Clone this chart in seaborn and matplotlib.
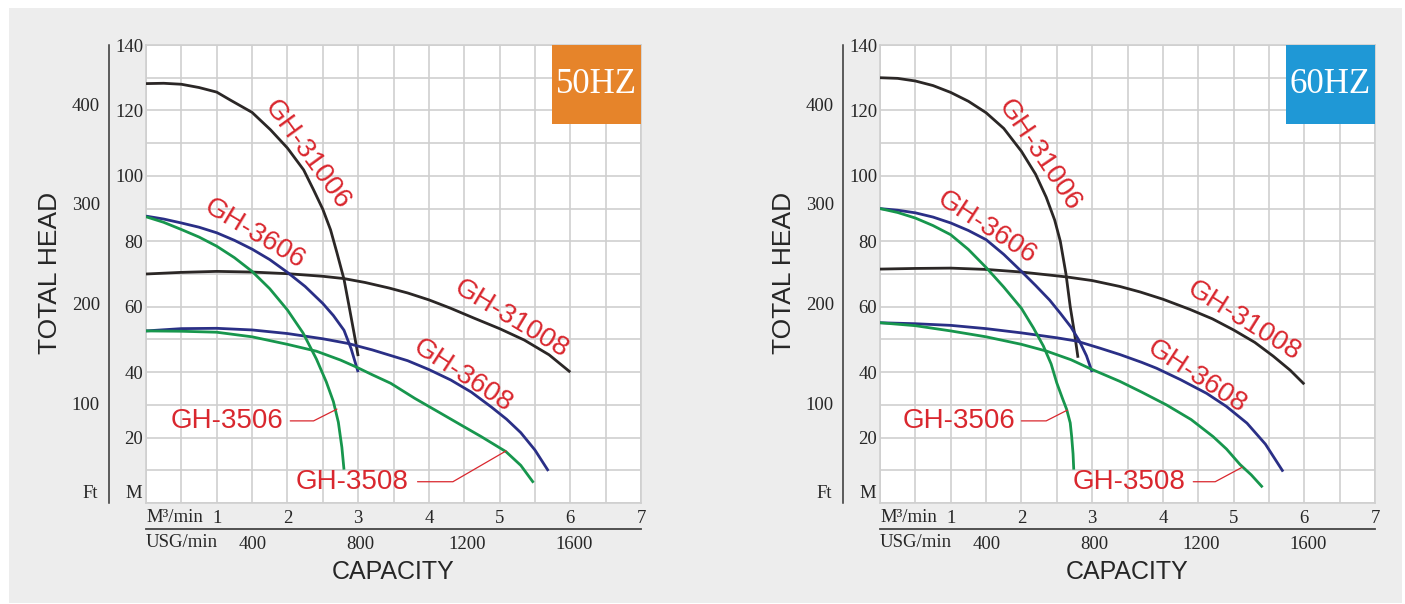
import matplotlib
matplotlib.use("Agg")
import matplotlib.pyplot as plt
from matplotlib.patches import Rectangle
import matplotlib.transforms as mtransforms
import seaborn as sns

# ---- curves: capacity (m3/min) vs total head (m) ----
# 50 Hz
q50_31006 = [0, 0.25, 0.5, 0.75, 1.0, 1.19, 1.5, 1.76, 2.0, 2.23, 2.37, 2.5, 2.61, 2.7, 2.8, 2.88, 2.95, 3.0]
h50_31006 = [128.2, 128.3, 128.0, 127.0, 125.6, 123.2, 119.4, 114.1, 108.5, 101.8, 95.7, 89.8, 83.5, 76.5, 68.4, 59.2, 51.0, 44.9]
q50_31008 = [0, 0.5, 1.0, 1.5, 2.0, 2.5, 2.8, 3.1, 3.44, 3.7, 4.0, 4.3, 4.64, 5.0, 5.35, 5.7, 6.0]
h50_31008 = [70.0, 70.5, 70.8, 70.6, 70.1, 69.3, 68.6, 67.4, 65.7, 64.2, 62.1, 59.6, 56.5, 53.3, 49.8, 45.3, 40.0]
q50_3606 = [0, 0.25, 0.5, 0.75, 1.0, 1.25, 1.5, 1.75, 2.0, 2.25, 2.5, 2.65, 2.8, 2.9, 3.0]
h50_3606 = [87.7, 86.8, 85.6, 84.3, 82.6, 80.3, 77.6, 74.4, 70.5, 66.2, 61.0, 57.3, 52.8, 47.2, 40.0]
q50_3608 = [0, 0.5, 1.0, 1.5, 2.0, 2.5, 2.85, 3.2, 3.7, 4.0, 4.31, 4.6, 4.88, 5.1, 5.3, 5.5, 5.69]
h50_3608 = [52.6, 53.3, 53.4, 52.9, 51.8, 50.2, 48.8, 46.8, 43.5, 40.8, 37.6, 33.9, 29.4, 25.6, 21.5, 16.2, 9.8]
q50_3506 = [0, 0.25, 0.5, 0.75, 1.0, 1.25, 1.5, 1.75, 2.0, 2.22, 2.41, 2.55, 2.65, 2.72, 2.77, 2.8]
h50_3506 = [87.5, 85.8, 83.6, 81.3, 78.5, 75.0, 70.8, 65.5, 59.0, 52.0, 44.0, 37.0, 31.0, 24.7, 17.0, 10.2]
q50_3508 = [0, 0.5, 1.0, 1.5, 2.0, 2.41, 2.75, 2.97, 3.2, 3.46, 3.8, 4.17, 4.45, 4.74, 5.09, 5.3, 5.48]
h50_3508 = [52.6, 52.5, 52.2, 50.8, 48.5, 46.4, 43.7, 41.6, 39.2, 36.6, 32.0, 27.4, 23.9, 20.3, 15.7, 11.5, 6.2]

# 60 Hz
q60_31006 = [0, 0.25, 0.5, 0.75, 1.0, 1.25, 1.5, 1.75, 2.0, 2.2, 2.35, 2.47, 2.55, 2.63, 2.69, 2.75, 2.8]
h60_31006 = [130.0, 129.8, 129.0, 127.6, 125.5, 122.8, 119.3, 114.5, 107.5, 100.5, 93.5, 86.5, 80.0, 70.0, 60.0, 52.0, 44.4]
q60_31008 = [0, 0.5, 1.0, 1.5, 2.0, 2.64, 3.0, 3.39, 3.68, 4.0, 4.38, 4.7, 5.0, 5.3, 5.56, 5.8, 6.0]
h60_31008 = [71.5, 71.7, 71.8, 71.4, 70.6, 69.1, 68.0, 66.2, 64.5, 62.3, 59.2, 56.3, 52.9, 49.1, 44.9, 40.6, 36.3]
q60_3606 = [0, 0.25, 0.5, 0.75, 1.0, 1.25, 1.5, 1.75, 2.0, 2.2, 2.4, 2.55, 2.7, 2.82, 2.92, 3.0]
h60_3606 = [90.0, 89.5, 88.7, 87.4, 85.6, 83.3, 80.5, 76.0, 70.8, 66.5, 62.0, 58.0, 53.8, 49.5, 45.0, 40.0]
q60_3608 = [0, 0.5, 1.0, 1.5, 2.0, 2.5, 2.78, 3.1, 3.39, 3.7, 3.91, 4.25, 4.62, 4.9, 5.19, 5.45, 5.7]
h60_3608 = [55.1, 54.8, 54.3, 53.3, 52.0, 50.5, 49.5, 47.4, 45.4, 43.0, 41.2, 37.7, 33.5, 29.5, 24.4, 18.0, 9.6]
q60_3506 = [0, 0.25, 0.5, 0.75, 1.0, 1.25, 1.5, 1.75, 2.0, 2.17, 2.31, 2.42, 2.5, 2.58, 2.64, 2.69, 2.71, 2.73, 2.74]
h60_3506 = [90.0, 88.8, 87.1, 84.8, 82.0, 77.5, 72.0, 66.0, 59.5, 53.5, 48.0, 42.5, 36.7, 32.0, 28.6, 24.5, 20.4, 15.0, 10.2]
q60_3508 = [0, 0.5, 1.0, 1.5, 2.0, 2.36, 2.7, 3.0, 3.39, 3.7, 4.05, 4.4, 4.71, 4.9, 5.09, 5.25, 5.41]
h60_3508 = [55.1, 54.2, 52.6, 50.8, 48.5, 46.4, 43.8, 40.8, 37.2, 33.9, 30.0, 25.5, 20.3, 16.5, 11.8, 8.6, 4.8]

models = ["GH-31006", "GH-31008", "GH-3606", "GH-3608", "GH-3506", "GH-3508"]
model_colors = ["#2b2726", "#2b2726", "#2a2f86", "#2a2f86", "#17964d", "#17964d"]

m_ticks = [20, 40, 60, 80, 100, 120, 140]
ft_ticks = [100, 200, 300, 400]
q_ticks = [1, 2, 3, 4, 5, 6, 7]
usg_ticks = [400, 800, 1200, 1600]

RED = "#d9272e"
GRID = "#cfcfcf"
SERIF = ["Liberation Serif", "DejaVu Serif"]
SANS = ["Liberation Sans", "DejaVu Sans"]

sns.set_style("white")
plt.rcParams["font.family"] = SERIF

fig = plt.figure(figsize=(14.05, 6.04), dpi=100)
fig.patch.set_facecolor("white")
fig.patches.append(Rectangle((9 / 1405, 1 / 604), 1393 / 1405, 595 / 604,
                             transform=fig.transFigure, facecolor="#ededed",
                             edgecolor="none", zorder=-10))


def draw_panel(ax, curves, labels, callouts, badge, badge_color):
    ax.set_facecolor("white")
    ax.set_xlim(0, 7)
    ax.set_ylim(0, 140)
    ax.set_xticks(q_ticks)
    ax.set_xticklabels([str(t) for t in q_ticks], fontsize=13.5)
    ax.set_xticks([i * 0.5 for i in range(15)], minor=True)
    ax.set_yticks(m_ticks)
    ax.set_yticklabels([str(t) for t in m_ticks], fontsize=13.5)
    ax.set_yticks(list(range(0, 141, 10)), minor=True)
    ax.grid(which="both", color=GRID, lw=1.2)
    ax.set_axisbelow(True)
    ax.tick_params(which="both", length=0)
    ax.tick_params(axis="y", pad=2)
    ax.tick_params(axis="x", pad=5)
    for s in ax.spines.values():
        s.set_color(GRID)
        s.set_linewidth(1.2)

    for (q, h), col in zip(curves, model_colors):
        sns.lineplot(x=q, y=h, ax=ax, color=col, lw=2.0, sort=False,
                     estimator=None, zorder=3, solid_joinstyle="round",
                     solid_capstyle="butt")

    for name, lab in zip(models, labels):
        if lab is None:
            continue
        x, y, rot = lab
        ax.text(x, y, name, rotation=rot, rotation_mode="anchor", ha="center",
                va="center", color=RED, fontsize=20, family=SANS, zorder=4)
    for name, (tx, ty, lx, ly) in callouts.items():
        ax.text(tx, ty, name, ha="center", va="center", color=RED,
                fontsize=20, family=SANS, zorder=4)
        ax.plot(lx, ly, color=RED, lw=0.9, zorder=4)

    ax.add_patch(Rectangle((5.74, 115.9), 1.26, 24.1, facecolor=badge_color,
                           edgecolor="none", zorder=5))
    ax.text(6.37, 127.8, badge, ha="center", va="center", color="white",
            fontsize=25, zorder=6)

    # feet scale on the left, USG scale under the capacity axis
    sec = ax.secondary_yaxis("left", functions=(lambda m: m * 3.281,
                                                lambda f: f / 3.281))
    sec.set_yticks(ft_ticks)
    sec.set_yticklabels([str(t) for t in ft_ticks])
    sec.spines["left"].set_position(("outward", 26.6))
    sec.spines["left"].set_color("#333333")
    sec.spines["left"].set_linewidth(1.1)
    sec.tick_params(length=0, pad=6.5, labelsize=13.5)

    secx = ax.secondary_xaxis("bottom", functions=(lambda q: q * 264.17,
                                                   lambda g: g / 264.17))
    secx.set_xticks(usg_ticks)
    secx.set_xticklabels([str(t) for t in usg_ticks])
    secx.spines["bottom"].set_position(("outward", 18.7))
    secx.spines["bottom"].set_color("#444444")
    secx.spines["bottom"].set_linewidth(1.3)
    secx.tick_params(length=0, pad=5, labelsize=13.5)

    tr = mtransforms.blended_transform_factory(ax.transData, ax.transAxes)
    ax.text(0, -0.032, "M³/min", transform=tr, ha="left", va="center",
            fontsize=13.5)
    ax.text(0, -0.087, "USG/min", transform=tr, ha="left", va="center",
            fontsize=13.5)
    ax.text(-0.008, 0.02, "M", transform=ax.transAxes, ha="right",
            va="center", fontsize=13.5)
    ax.text(-0.097, 0.02, "Ft", transform=ax.transAxes, ha="right",
            va="center", fontsize=13.5)
    ax.text(0.5, -0.151, "CAPACITY", transform=ax.transAxes, ha="center",
            va="center", fontsize=18, family=SANS)
    ax.text(-0.194, 0.502, "TOTAL HEAD", transform=ax.transAxes, ha="center",
            va="center", rotation=90, fontsize=19, family=SANS)
    ax.set_xlabel("")
    ax.set_ylabel("")


curves50 = [(q50_31006, h50_31006), (q50_31008, h50_31008), (q50_3606, h50_3606),
            (q50_3608, h50_3608), (q50_3506, h50_3506), (q50_3508, h50_3508)]
curves60 = [(q60_31006, h60_31006), (q60_31008, h60_31008), (q60_3606, h60_3606),
            (q60_3608, h60_3608), (q60_3506, h60_3506), (q60_3508, h60_3508)]

labels50 = [(2.27, 106.6, -54), (5.17, 56.3, -31), (1.53, 82.2, -31),
            (4.48, 38.9, -33), None, None]
labels60 = [(2.25, 106.3, -56), (5.14, 55.6, -32), (1.51, 84.0, -33),
            (4.48, 38.6, -33), None, None]
callouts50 = {"GH-3506": (1.15, 25.1, [2.04, 2.37, 2.70], [25.1, 25.1, 28.7]),
              "GH-3508": (2.92, 6.5, [3.84, 4.34, 5.09], [6.5, 6.5, 15.9])}
callouts60 = {"GH-3506": (1.12, 25.1, [2.0, 2.35, 2.65], [25.1, 25.1, 28.4]),
              "GH-3508": (3.52, 6.4, [4.43, 4.74, 5.12], [6.5, 6.5, 10.9])}

ax1 = fig.add_axes([146 / 1405, 101 / 604, 495 / 1405, 458 / 604])
ax2 = fig.add_axes([880 / 1405, 101 / 604, 495 / 1405, 458 / 604])
draw_panel(ax1, curves50, labels50, callouts50, "50HZ", "#e6842a")
draw_panel(ax2, curves60, labels60, callouts60, "60HZ", "#1f98d6")

fig.savefig("out.png", dpi=100, facecolor=fig.get_facecolor())
